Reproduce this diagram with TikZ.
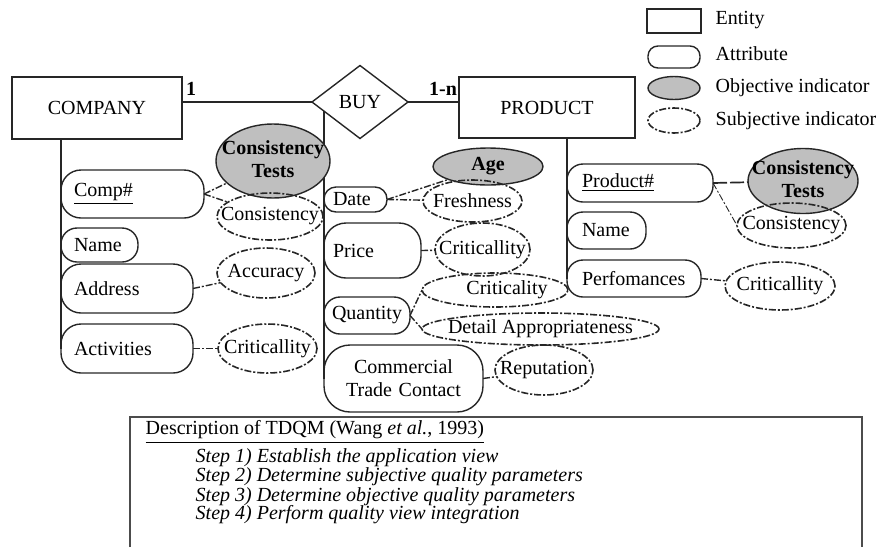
\documentclass[tikz,border=0pt]{standalone}
\usepackage{fontspec}
\setmainfont{Liberation Serif}
\usetikzlibrary{shapes.geometric,calc}
\newcommand\ellOne[1]{\makebox[0pt]{#1}}
\newcommand\ellTwo[2]{\makebox[0pt]{\raisebox{-2.5pt}{\begin{tabular}{@{}c@{}}#1\\#2\end{tabular}}}}
\begin{document}
\begin{tikzpicture}[x=0.5pt,y=-0.5pt,
  font=\fontsize{10}{11.5}\selectfont,
  line width=0.7pt, draw=black!85,
  entity/.style={draw, rectangle, inner sep=0pt, outer sep=0pt},
  attr/.style={draw, rectangle, rounded corners=8pt, align=left, inner ysep=0pt, outer sep=0pt, inner xsep=6.5pt},
  objind/.style={draw, ellipse, fill=black!25, inner sep=0pt, outer sep=0pt, font=\fontsize{10}{11.5}\selectfont\bfseries},
  subdash/.style={dash pattern=on 3.5pt off 1pt on 1pt off 1pt},
  subind/.style={draw, ellipse, subdash, line width=0.8pt, inner sep=0pt, outer sep=0pt},
  link/.style={subdash},
  solidlink/.style={dash pattern=on 7pt off 1.5pt, line width=0.85pt},
  lbl/.style={inner sep=0pt, anchor=west},
  steptext/.style={inner sep=0pt, anchor=west, font=\fontsize{10}{11.5}\selectfont\itshape},
]
\useasboundingbox (0,0) rectangle (877,547);

% ---------- entities and relationship ----------
\node[entity, minimum width=85pt, minimum height=31pt] (company) at (97,108) {COMPANY};
\node[entity, minimum width=88pt, minimum height=30.5pt] (product) at (547,107.5) {PRODUCT};
\node[draw, diamond, minimum width=48pt, minimum height=36.5pt, inner sep=0pt, outer sep=0pt] (buy) at (360,102) {BUY};
\node[inner sep=0pt, font=\fontsize{10}{11.5}\selectfont\bfseries] (cardone) at (191,89) {1};
\node[inner sep=0pt, font=\fontsize{10}{11.5}\selectfont\bfseries] (cardmany) at (443,89) {1-n};
\draw (buy.west) -- (buy.west -| company.east);
\draw (buy.east) -- (buy.east -| product.west);

% ---------- legend ----------
\node[entity, minimum width=27pt, minimum height=12pt] (lent) at (674,21) {};
\node[attr, rounded corners=5pt, minimum width=26pt, minimum height=11pt, inner xsep=0pt] (lattr) at (674,57) {};
\node[objind, minimum width=26pt, minimum height=11.5pt] (lobj) at (674,88) {};
\node[subind, minimum width=26pt, minimum height=12.5pt] (lsub) at (674,120.5) {};
\node[lbl] (tent) at (715,20) {Entity};
\node[lbl] (tattr) at (715,54) {Attribute};
\node[lbl] (tobj) at (715,88) {Objective indicator};
\node[lbl] (tsub) at (715,121) {Subjective indicator};

% ---------- COMPANY attributes ----------
\node[attr, rounded corners=10pt, text width=58.5pt, minimum height=24pt] (comp) at (132.5,194) {\underline{Comp\#}};
\node[attr, rounded corners=8pt, text width=25.5pt, minimum height=17pt] (namea) at (99.5,245) {Name};
\node[attr, rounded corners=10pt, text width=53pt, minimum height=24.5pt] (addr) at (127,288.5) {Address};
\node[attr, rounded corners=10pt, text width=53pt, minimum height=24.5pt] (act) at (127,348.5) {Activities};

% ---------- BUY attributes ----------
\node[attr, rounded corners=6pt, inner xsep=4.5pt, text width=22.5pt, minimum height=12.5pt] (date) at (355.5,199.5) {Date};
\node[attr, rounded corners=11pt, inner xsep=4.5pt, text width=39.5pt, minimum height=27.5pt] (price) at (372.5,250.5) {Price};
\node[attr, rounded corners=8pt, inner xsep=4pt, text width=35pt, minimum height=18.5pt] (qty) at (367,315.5) {Quantity};
\node[attr, rounded corners=13pt, align=center, inner xsep=0pt, text width=79.5pt, minimum height=33.5pt] (ctc) at (403.5,378.5) {Commercial\\Trade Contact};

% ---------- PRODUCT attributes ----------
\node[attr, rounded corners=8pt, inner xsep=7.5pt, text width=58pt, minimum height=19pt] (prod) at (640,183) {\underline{Product\#}};
\node[attr, rounded corners=8pt, inner xsep=7.5pt, text width=24.5pt, minimum height=18.5pt] (nameb) at (606.5,230.5) {Name};
\node[attr, rounded corners=8pt, inner xsep=7.5pt, text width=52pt, minimum height=18.5pt] (perf) at (634,278.5) {Perfomances};

% ---------- attribute stems ----------
\draw (company.south -| comp.west) -- (act.west);
\draw ($(buy.west)!0.25!(buy.south)$) -- (ctc.west);
\draw (product.south -| prod.west) -- (perf.west);

% ---------- objective indicators ----------
\node[objind, minimum width=57pt, minimum height=37pt] (cta) at (273,161) {\ellTwo{Consistency}{Tests}};
\node[objind, minimum width=55pt, minimum height=18.5pt] (age) at (488,166.5) {\ellOne{Age}};
\node[objind, minimum width=55pt, minimum height=31pt] (ctb) at (803,181) {\ellTwo{Consistency}{Tests}};

% ---------- subjective indicators ----------
\node[subind, minimum width=53pt, minimum height=23.5pt] (consa) at (270,216.5) {\ellOne{Consistency}};
\node[subind, minimum width=49pt, minimum height=25pt] (acc) at (266,273) {\ellOne{Accuracy}};
\node[subind, minimum width=49.5pt, minimum height=24.5pt] (crita) at (267.5,348.5) {\ellOne{Criticallity}};
\node[subind, minimum width=49.5pt, minimum height=21pt] (fresh) at (472.5,201) {\ellOne{Freshness}};
\node[subind, minimum width=47.5pt, minimum height=26.5pt] (critp) at (482.5,249.5) {\ellOne{Criticallity}};
\node[subind, minimum width=73pt, minimum height=17pt] (critq) at (495,290) {\ellOne{\hspace{12pt}Criticality}};
\node[subind, minimum width=118.5pt, minimum height=16pt] (detail) at (540.5,329) {\ellOne{Detail Appropriateness}};
\node[subind, minimum width=49pt, minimum height=25pt] (rep) at (544,370) {\ellOne{Reputation}};
\node[subind, minimum width=54.5pt, minimum height=22.5pt] (consb) at (791.5,225.5) {\ellOne{Consistency}};
\node[subind, minimum width=55pt, minimum height=24pt] (critb) at (780,286) {\ellOne{Criticallity}};

% ---------- indicator links ----------
\draw[link] (comp.east) -- (cta);
\draw[link] (comp.east) -- (consa);
\draw[link] (addr.east) -- (acc);
\draw[link] (act.east) -- (crita);
\draw[link] (date.east) -- (age);
\draw[link] (date.east) -- (fresh);
\draw[link] (price.east) -- (critp);
\draw[link] (qty.east) -- (critq.west);
\draw[link] (qty.east) -- (detail.west);
\draw[link] (ctc.east) -- (rep);
\draw[solidlink] (prod.east) -- (ctb);
\draw[link, line width=0.45pt] (prod.east) -- (consb.west);
\draw[link] (perf.east) -- (critb);

% ---------- description box ----------
\draw[line width=0.9pt, draw=black!70] (130,547) -- (130,417) -- (862,417) -- (862,547);
\node[lbl] (dhead) at (145,432) {\underline{Description of TDQM (Wang \textit{et al.}, 1993)}};
\node[steptext] (stepa) at (195,458) {Step 1) Establish the application view};
\node[steptext] (stepb) at (195,477) {Step 2) Determine subjective quality parameters};
\node[steptext] (stepc) at (195,497) {Step 3) Determine objective quality parameters};
\node[steptext] (stepd) at (195,515) {Step 4) Perform quality view integration};
\end{tikzpicture}
\end{document}
